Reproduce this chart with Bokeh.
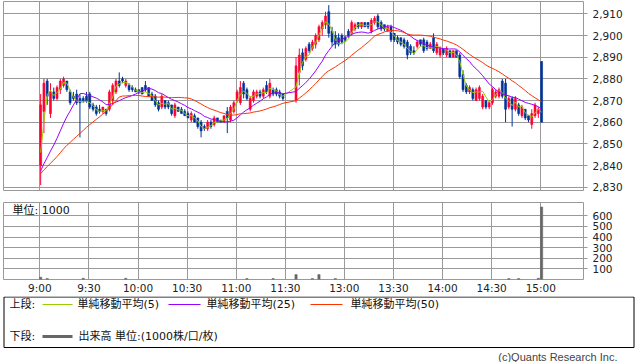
import math
from bokeh.plotting import figure
from bokeh.layouts import column
from bokeh.models import (Range1d, FixedTicker, NumeralTickFormatter, ColumnDataSource,
                          Label, BoxAnnotation)
from bokeh.embed import file_html
from bokeh.resources import INLINE
from bokeh.core.properties import value

# ---------------- data (2-minute candles) ----------------
SLOT_MINUTES = 2
PREV_CLOSE = 2835

am_open  = [2840,2865,2879,2864,2874,2871,2875,2877,2879,2874,2872,2873,2871,2871,2872,2873,2868,2867,2866,2865,
            2866,2866,2870,2874,2879,2880,2877,2877,2876,2875,2875,2876,2877,2876,2873,2872,2869,2867,2870,2869,
            2868,2863,2867,2866,2865,2864,2861,2863,2862,2860,2858,2857,2860,2859,2862,2861,2860,2865,2861,2865,
            2870,2869,2878,2875,2866,2870,2872,2874,2872,2877,2872,2875,2875,2874,2873]
am_high  = [2873,2880,2880,2878,2876,2877,2880,2881,2879,2875,2874,2875,2873,2872,2874,2874,2869,2868,2868,2867,
            2866,2875,2878,2880,2883,2881,2880,2878,2877,2876,2875,2876,2879,2876,2874,2873,2870,2873,2870,2870,
            2868,2869,2867,2867,2866,2865,2865,2864,2862,2861,2859,2861,2861,2863,2862,2861,2863,2867,2868,2870,
            2875,2879,2879,2876,2872,2875,2875,2875,2876,2879,2880,2876,2876,2875,2873]
am_low   = [2831,2855,2868,2862,2870,2870,2873,2876,2874,2868,2870,2868,2853,2869,2869,2866,2865,2863,2864,2864,
            2863,2865,2868,2873,2876,2878,2876,2874,2874,2874,2873,2873,2874,2872,2870,2867,2865,2866,2866,2866,
            2863,2862,2865,2864,2863,2862,2860,2860,2857,2853,2856,2856,2857,2858,2860,2860,2860,2855,2860,2864,
            2869,2868,2871,2870,2865,2869,2871,2871,2871,2873,2871,2872,2872,2871,2870]
am_close = [2868,2878,2872,2874,2871,2876,2879,2880,2875,2869,2871,2869,2869,2870,2870,2867,2866,2864,2865,2867,
            2864,2874,2877,2879,2877,2879,2879,2875,2875,2874,2874,2873,2875,2872,2870,2868,2866,2872,2867,2867,
            2864,2868,2865,2864,2863,2862,2864,2860,2858,2856,2857,2860,2858,2862,2860,2860,2863,2862,2867,2869,
            2874,2876,2873,2871,2871,2874,2874,2872,2875,2874,2878,2873,2873,2872,2871]

pm_open  = [2870,2883,2892,2889,2896,2894,2896,2898,2903,2905,2911,2902,2900,2899,2900,2899,2902,2901,2903,2906,
            2904,2906,2906,2902,2906,2909,2906,2905,2902,2904,2901,2899,2899,2898,2897,2895,2893,2895,2898,2898,
            2897,2894,2899,2892,2891,2894,2891,2893,2890,2893,2891,2882,2877,2874,2875,2870,2871,2867,2870,2867,
            2869,2872,2872,2879,2878,2867,2871,2866,2868,2863,2866,2863,2859,2863,2864,2888]
pm_high  = [2890,2894,2894,2895,2897,2898,2901,2905,2907,2911,2914,2904,2902,2901,2901,2900,2903,2907,2906,2906,
            2906,2906,2906,2908,2909,2910,2907,2905,2905,2905,2901,2900,2899,2899,2898,2896,2895,2898,2898,2899,
            2898,2897,2901,2897,2895,2894,2895,2893,2893,2893,2892,2884,2878,2877,2876,2876,2877,2873,2870,2870,
            2876,2875,2876,2880,2880,2872,2872,2872,2869,2868,2866,2863,2866,2869,2867,2888]
pm_low   = [2869,2877,2884,2888,2892,2893,2894,2897,2900,2903,2899,2895,2894,2895,2896,2897,2899,2900,2902,2903,
            2903,2904,2903,2901,2905,2903,2902,2902,2902,2897,2897,2896,2895,2894,2889,2891,2891,2894,2895,2892,
            2893,2894,2892,2891,2890,2891,2890,2890,2890,2890,2880,2874,2873,2873,2870,2870,2870,2866,2866,2866,
            2868,2871,2871,2871,2860,2866,2858,2865,2863,2862,2861,2860,2857,2862,2862,2860]
pm_close = [2886,2891,2886,2894,2893,2897,2900,2904,2906,2909,2901,2897,2896,2896,2897,2898,2900,2906,2905,2904,
            2906,2904,2904,2907,2908,2904,2903,2903,2904,2898,2898,2897,2896,2895,2891,2892,2892,2897,2896,2893,
            2894,2896,2893,2896,2894,2892,2894,2890,2893,2890,2881,2875,2874,2876,2871,2875,2876,2872,2867,2869,
            2875,2874,2875,2872,2866,2871,2866,2871,2864,2867,2862,2861,2864,2868,2866,2860]

vol_times  = ["9:00", "9:04", "9:26", "9:52", "11:06", "11:22", "12:30", "12:40", "12:44", "12:54",
              "14:40", "14:46", "14:58", "15:00"]
vol_values = [22, 9, 12, 12, 9, 9, 46, 9, 46, 9, 9, 9, 12, 683]   # unit: 1000 shares

tick_labels = ["9:00", "9:30", "10:00", "10:30", "11:00", "11:30", "13:00", "13:30", "14:00", "14:30", "15:00"]
price_ticks = [2830, 2840, 2850, 2860, 2870, 2880, 2890, 2900, 2910]
vol_ticks = [100, 200, 300, 400, 500, 600]
ma_minutes = [5, 25, 50]
ma_labels = ["単純移動平均(5)", "単純移動平均(25)", "単純移動平均(50)"]

# ---------------- styles ----------------
UP, DOWN = "#ff0033", "#003399"
MA_COLORS = ["#99cc00", "#9900ff", "#ff3300"]
GRID = "#999999"
FONT = "DejaVu Sans"
JFONT = "Noto Sans CJK JP"
LUNCH_OFFSET = 156   # x index where the afternoon session (12:30) begins
RIGHT_BORDER = 55


def minute_index(t):
    h, m = map(int, t.split(":"))
    mins = h * 60 + m
    if mins <= 11 * 60 + 30:
        return mins - 9 * 60
    return mins - (12 * 60 + 30) + LUNCH_OFFSET


def fmt(mins):
    return f"{mins // 60}:{mins % 60:02d}"


am_times = [fmt(540 + SLOT_MINUTES * k) for k in range(len(am_open))]
pm_times = [fmt(750 + SLOT_MINUTES * k) for k in range(len(pm_open))]
times = am_times + pm_times
opens = am_open + pm_open
highs = am_high + pm_high
lows = am_low + pm_low
closes = am_close + pm_close
xs = [minute_index(t) + 0.5 for t in times]
colors = [UP if c >= o else DOWN for o, c in zip(opens, closes)]

src = ColumnDataSource(dict(
    x=xs, high=highs, low=lows,
    top=[max(o, c) for o, c in zip(opens, closes)],
    bottom=[min(o, c) for o, c in zip(opens, closes)],
    color=colors))


def moving_average(vals, window):
    padded = [PREV_CLOSE] * (window - 1) + vals
    return [sum(padded[i:i + window]) / window for i in range(len(vals))]


X_RANGE = Range1d(-22.2, 332.1)
tick_pos = [minute_index(t) for t in tick_labels]


def style_right_axis(a, ticks):
    a.ticker = FixedTicker(ticks=ticks)
    a.axis_line_color = None
    a.major_tick_out = 4
    a.major_tick_in = 0
    a.major_tick_line_color = GRID
    a.minor_tick_line_color = None
    a.major_label_text_font = FONT
    a.major_label_text_font_size = "10.5px"
    a.major_label_text_color = "#222222"


def style_grid(p, yticks):
    p.xgrid.ticker = FixedTicker(ticks=tick_pos)
    p.ygrid.ticker = FixedTicker(ticks=yticks)
    for g in (p.xgrid, p.ygrid):
        g.grid_line_color = GRID
        g.grid_line_alpha = 1.0


# ---------------- price panel ----------------
p1 = figure(width=638, height=192, x_range=X_RANGE, y_range=Range1d(2828.5, 2915.7),
            toolbar_location=None, output_backend="svg", y_axis_location="right",
            x_axis_location=None, min_border_left=3, min_border_right=RIGHT_BORDER,
            min_border_top=1, min_border_bottom=2, outline_line_color=GRID,
            background_fill_color="white", border_fill_color="white")
style_grid(p1, price_ticks)
style_right_axis(p1.yaxis[0], price_ticks)
p1.yaxis[0].formatter = NumeralTickFormatter(format="0,0")

p1.segment(x0="x", y0="low", x1="x", y1="high", color="color", line_width=1, source=src)
p1.vbar(x="x", width=1.2, top="top", bottom="bottom", fill_color="color",
        line_color="color", line_width=0.6, source=src)

for minutes, col in zip(ma_minutes, MA_COLORS):
    w = math.ceil(minutes / SLOT_MINUTES)
    p1.line(xs, moving_average(closes, w), line_color=col, line_width=1)

# ---------------- volume panel ----------------
VOL_TOP = 725
p2 = figure(width=638, height=104, x_range=X_RANGE, y_range=Range1d(0, VOL_TOP),
            toolbar_location=None, output_backend="svg", y_axis_location="right",
            x_axis_location="below", min_border_left=3, min_border_right=RIGHT_BORDER,
            min_border_top=10, min_border_bottom=0, outline_line_color=GRID,
            background_fill_color="white", border_fill_color="white")
style_grid(p2, vol_ticks)
style_right_axis(p2.yaxis[0], vol_ticks)
axx = p2.xaxis[0]
axx.ticker = FixedTicker(ticks=tick_pos)
axx.major_label_overrides = {pos: lab for pos, lab in zip(tick_pos, tick_labels)}
axx.axis_line_color = None
axx.major_tick_line_color = None
axx.minor_tick_line_color = None
axx.major_tick_out = 0
axx.major_tick_in = 0
axx.major_label_standoff = 2
axx.major_label_text_font = FONT
axx.major_label_text_font_size = "10.5px"
axx.major_label_text_color = "#222222"

p2.vbar(x=[minute_index(t) + 0.5 for t in vol_times], width=1.4, top=vol_values, bottom=0,
        fill_color="#666666", line_color="#666666", line_width=0.5)
p2.add_layout(Label(x=X_RANGE.start + 5.5, y=VOL_TOP * 0.9, text="単位: 1000",
                    text_font=f"{FONT}, {JFONT}", text_font_size="11px",
                    text_baseline="middle", text_color="#111111"))

# ---------------- legend panel (x data units = page pixels) ----------------
p3 = figure(width=638, height=66, x_range=Range1d(0, 638), y_range=Range1d(66, 0),
            toolbar_location=None, output_backend="svg", x_axis_location=None,
            y_axis_location=None, min_border=0, min_border_left=0, min_border_right=0,
            min_border_top=0, min_border_bottom=0, outline_line_color=None,
            background_fill_color="white", border_fill_color="white")
p3.grid.visible = False
p3.add_layout(BoxAnnotation(left=3.5, right=633.5, top=0.5, bottom=51, fill_alpha=0,
                            line_color="#000000", line_width=1, line_alpha=1))
TF = value(f"{FONT}, {JFONT}")
p3.text(x=[9, 77, 206, 350], y=[8, 8, 8, 8], text=["上段:"] + ma_labels,
        text_font=TF, text_font_size=value("11px"), text_baseline="middle", text_color="#111111")
p3.segment(x0=[42, 168, 310], y0=[8, 8, 8], x1=[72, 200, 342], y1=[8, 8, 8],
           line_color=MA_COLORS, line_width=1)
p3.text(x=[9, 78], y=[40, 40], text=["下段:", "出来高 単位:(1000株/口/枚)"],
        text_font=TF, text_font_size=value("11px"), text_baseline="middle", text_color="#111111")
p3.segment(x0=[42], y0=[40], x1=[72], y1=[40], line_color="#666666", line_width=3)
p3.text(x=[617], y=[60], text=["(c)Quants Research Inc."], text_font=value("Liberation Sans"),
        text_font_size=value("11px"), text_align="right", text_baseline="middle",
        text_color="#444444")

charts = column(p1, p2, spacing=0)
layout = column(charts, p3, spacing=0)
open("out.html", "w").write(file_html(layout, INLINE))
